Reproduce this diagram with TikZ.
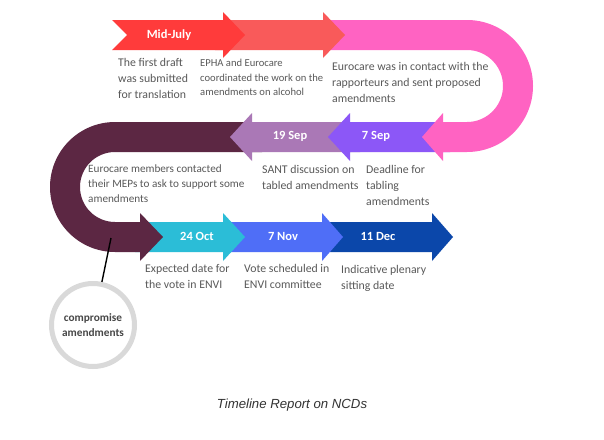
\documentclass[tikz,border=0pt]{standalone}
\usepackage{fontspec}
\setmainfont{Carlito}
\newfontfamily\capfont{Liberation Sans}
\definecolor{cRed}{HTML}{FF3B3B}
\definecolor{cSalmon}{HTML}{F95A5A}
\definecolor{cPink}{HTML}{FF63C2}
\definecolor{cPurple}{HTML}{8C57F7}
\definecolor{cMauve}{HTML}{AA78B6}
\definecolor{cMaroon}{HTML}{5C2743}
\definecolor{cCyan}{HTML}{2BBDD7}
\definecolor{cBlue}{HTML}{4F6EF7}
\definecolor{cNavy}{HTML}{0B47AA}
\definecolor{cText}{HTML}{595959}
\definecolor{cRing}{HTML}{D9D9D9}
\tikzset{
  datelbl/.style={text=white, font=\fontsize{12.5}{14}\selectfont\bfseries, inner sep=0pt},
  desc/.style={text=cText, font=\fontsize{11.8}{15.7}\selectfont, align=left, anchor=north west, inner sep=0pt}
}
\begin{document}
\begin{tikzpicture}[x=1pt,y=-1pt]
\useasboundingbox[fill=white] (0,0) rectangle (604,439);
% bottom row (back to front)
\fill[cNavy] (330,222) -- (432,222) -- (432,213) -- (453,237) -- (432,261) -- (432,252) -- (330,252) -- cycle;
\fill[cBlue] (230,222) -- (322,222) -- (322,213) -- (343,237) -- (322,261) -- (322,252) -- (230,252) -- cycle;
\fill[cCyan] (135,222) -- (223,222) -- (223,213) -- (245,237) -- (223,261) -- (223,252) -- (135,252) -- cycle;
% maroon U
\fill[cMaroon] (262,122) -- (115,122) arc(-90:-270:65) -- (140,252) -- (140,261) -- (163,237) -- (140,213) -- (140,222) -- (115,222) arc(90:270:35) -- (262,152) -- cycle;
% middle row
\fill[cMauve] (360,122) -- (252,122) -- (252,113) -- (230,137) -- (252,161) -- (252,152) -- (360,152) -- cycle;
\fill[cPurple] (450,122) -- (350,122) -- (350,113) -- (328,137) -- (350,161) -- (350,152) -- (450,152) -- cycle;
% pink U
\fill[cPink] (330,20) -- (467,20) arc(-90:90:66) -- (443,152) -- (443,161) -- (422,137) -- (443,113) -- (443,122) -- (467,122) arc(90:-90:36) -- (330,50) -- cycle;
% top row
\fill[cSalmon] (215,20) -- (323,20) -- (323,12) -- (345,35) -- (323,58) -- (323,50) -- (215,50) -- cycle;
\fill[cRed] (112,20) -- (223,20) -- (223,12) -- (245,35) -- (223,58) -- (223,50) -- (112,50) -- (127,35) -- cycle;

% date labels
\node[datelbl] (d1) at (169,35) {Mid-July};
\node[datelbl] (d2) at (376,136) {7 Sep};
\node[datelbl] (d3) at (290,136) {19 Sep};
\node[datelbl] (d4) at (197,236) {24 Oct};
\node[datelbl] (d5) at (283,236) {7 Nov};
\node[datelbl] (d6) at (378,236) {11 Dec};

% descriptions
\node[desc] (t1) at (118,58.5) {The first draft\\was submitted\\for translation};
\node[desc, font=\fontsize{10.6}{14.6}\selectfont] (t2) at (200,59) {EPHA and Eurocare\\coordinated the work on the\\amendments on alcohol};
\node[desc] (t3) at (332,62.5) {Eurocare was in contact with the\\rapporteurs and sent proposed\\amendments};
\node[desc, font=\fontsize{11.2}{15.2}\selectfont] (t4) at (88,164.5) {Eurocare members contacted\\their MEPs to ask to support some\\amendments};
\node[desc] (t5) at (262,165.5) {SANT discussion on\\tabled amendments};
\node[desc] (t6) at (366,165.5) {Deadline for\\tabling\\amendments};
\node[desc] (t7) at (145,264.5) {Expected date for\\the vote in ENVI};
\node[desc] (t8) at (244,264.5) {Vote scheduled in\\ENVI committee};
\node[desc] (t9) at (341,265.5) {Indicative plenary\\sitting date};

% compromise circle
\node[circle, draw=cRing, line width=5pt, minimum size=83pt, inner sep=0pt, align=center,
      text=cText!80!black, font=\fontsize{11.3}{15}\selectfont\bfseries] (circ) at (93,325) {compromise\\amendments};
\coordinate (cm) at (111,238);
\draw[line width=1.4pt, black] (cm) -- (circ);

% caption
\node[font=\capfont\itshape\fontsize{13.2}{15}\selectfont, text=black!80] (cap) at (292,405) {Timeline Report on NCDs};
\end{tikzpicture}
\end{document}
